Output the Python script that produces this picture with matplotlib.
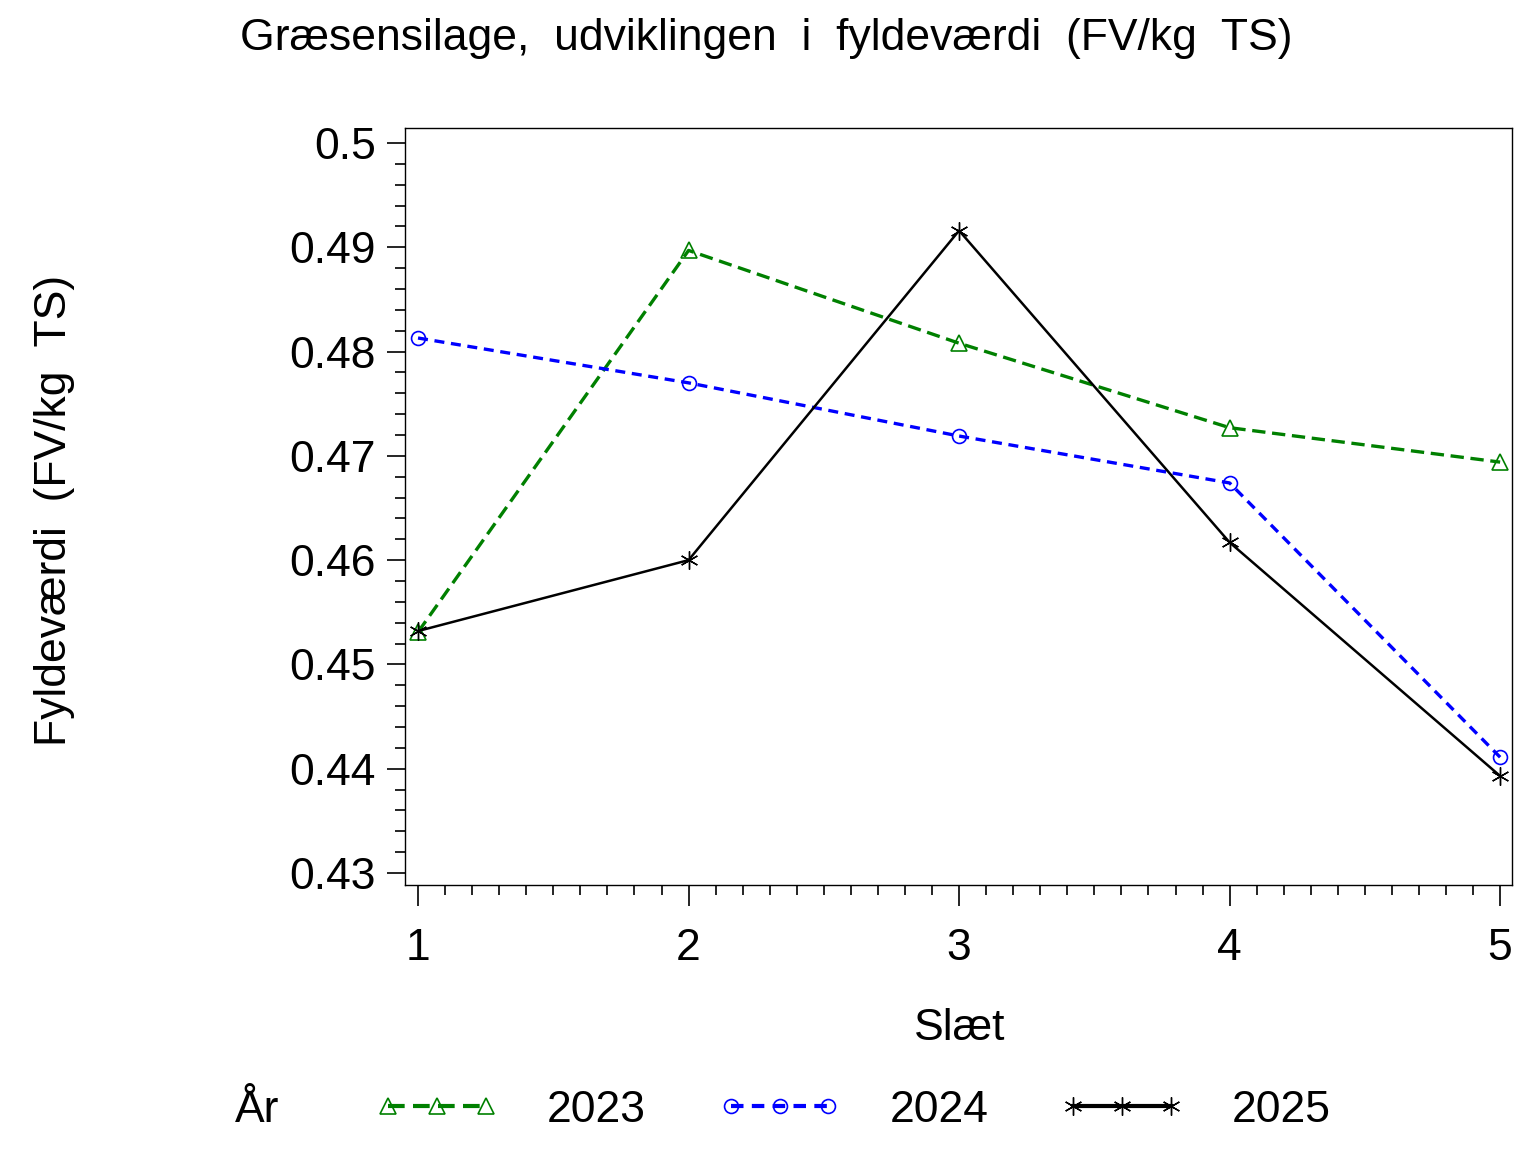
import matplotlib.pyplot as plt
from matplotlib.ticker import MultipleLocator

plt.rcParams['font.family'] = ['Liberation Sans', 'DejaVu Sans']

# data
slaet = [1, 2, 3, 4, 5]
fv_2023 = [0.4531, 0.4897, 0.4808, 0.4727, 0.4694]
fv_2024 = [0.4813, 0.4770, 0.4719, 0.4674, 0.4411]
fv_2025 = [0.4532, 0.4600, 0.4916, 0.4617, 0.4393]
aar = ['2023', '2024', '2025']

FS = 32

fig = plt.figure(figsize=(15.36, 11.52), dpi=100)
ax = fig.add_axes([0.2637, 0.2318, 0.7207, 0.6571])

l1, = ax.plot(slaet, fv_2023, color='green', ls=(0, (4, 2)), lw=2.4,
              marker='^', ms=11, mfc='none', mec='green', mew=1.2)
l2, = ax.plot(slaet, fv_2024, color='blue', ls=(0, (3, 2)), lw=2.4,
              marker='o', ms=10, mfc='none', mec='blue', mew=1.2)
l3, = ax.plot(slaet, fv_2025, color='black', ls='-', lw=1.8,
              marker=(6, 2, 0), ms=13, mec='black', mew=1.0)

ax.set_xlim(0.952, 5.044)
ax.set_ylim(0.42885, 0.50144)
ax.xaxis.set_major_locator(MultipleLocator(1))
ax.xaxis.set_minor_locator(MultipleLocator(0.1))
ax.yaxis.set_major_locator(MultipleLocator(0.01))
ax.yaxis.set_minor_locator(MultipleLocator(0.002))
ax.yaxis.set_major_formatter(lambda v, p: f'{v:.2f}'.rstrip('0'))

ax.tick_params(which='major', direction='out', length=13, width=1.2,
               labelsize=FS)
ax.tick_params(axis='x', which='major', length=15, pad=16)
ax.tick_params(axis='y', which='major', pad=8)
ax.tick_params(which='minor', direction='out', length=7, width=1.2)
for s in ax.spines.values():
    s.set_linewidth(1.0)

fig.text(0.625, 0.1076, 'Slæt', fontsize=FS, ha='center', va='center')
fig.text(0.0358, 0.557, 'Fyldeværdi  (FV/kg  TS)', fontsize=FS,
         rotation=90, ha='center', va='center')
fig.text(0.499, 0.967, 'Græsensilage,  udviklingen  i  fyldeværdi  (FV/kg  TS)',
         fontsize=FS, ha='center', va='center')

# legend
fig.text(0.153, 0.036, 'År', fontsize=FS, va='center', ha='left')
leg = fig.legend([l1, l2, l3], aar, loc='center left', bbox_to_anchor=(0.244, 0.036),
                 ncol=3, frameon=False, fontsize=FS, numpoints=3,
                 handlelength=2.8, handletextpad=1.08, columnspacing=1.6,
                 borderaxespad=0, borderpad=0)
for ln in leg.get_lines():
    ln.set_linewidth(3)

fig.savefig('out.png', dpi=100)
